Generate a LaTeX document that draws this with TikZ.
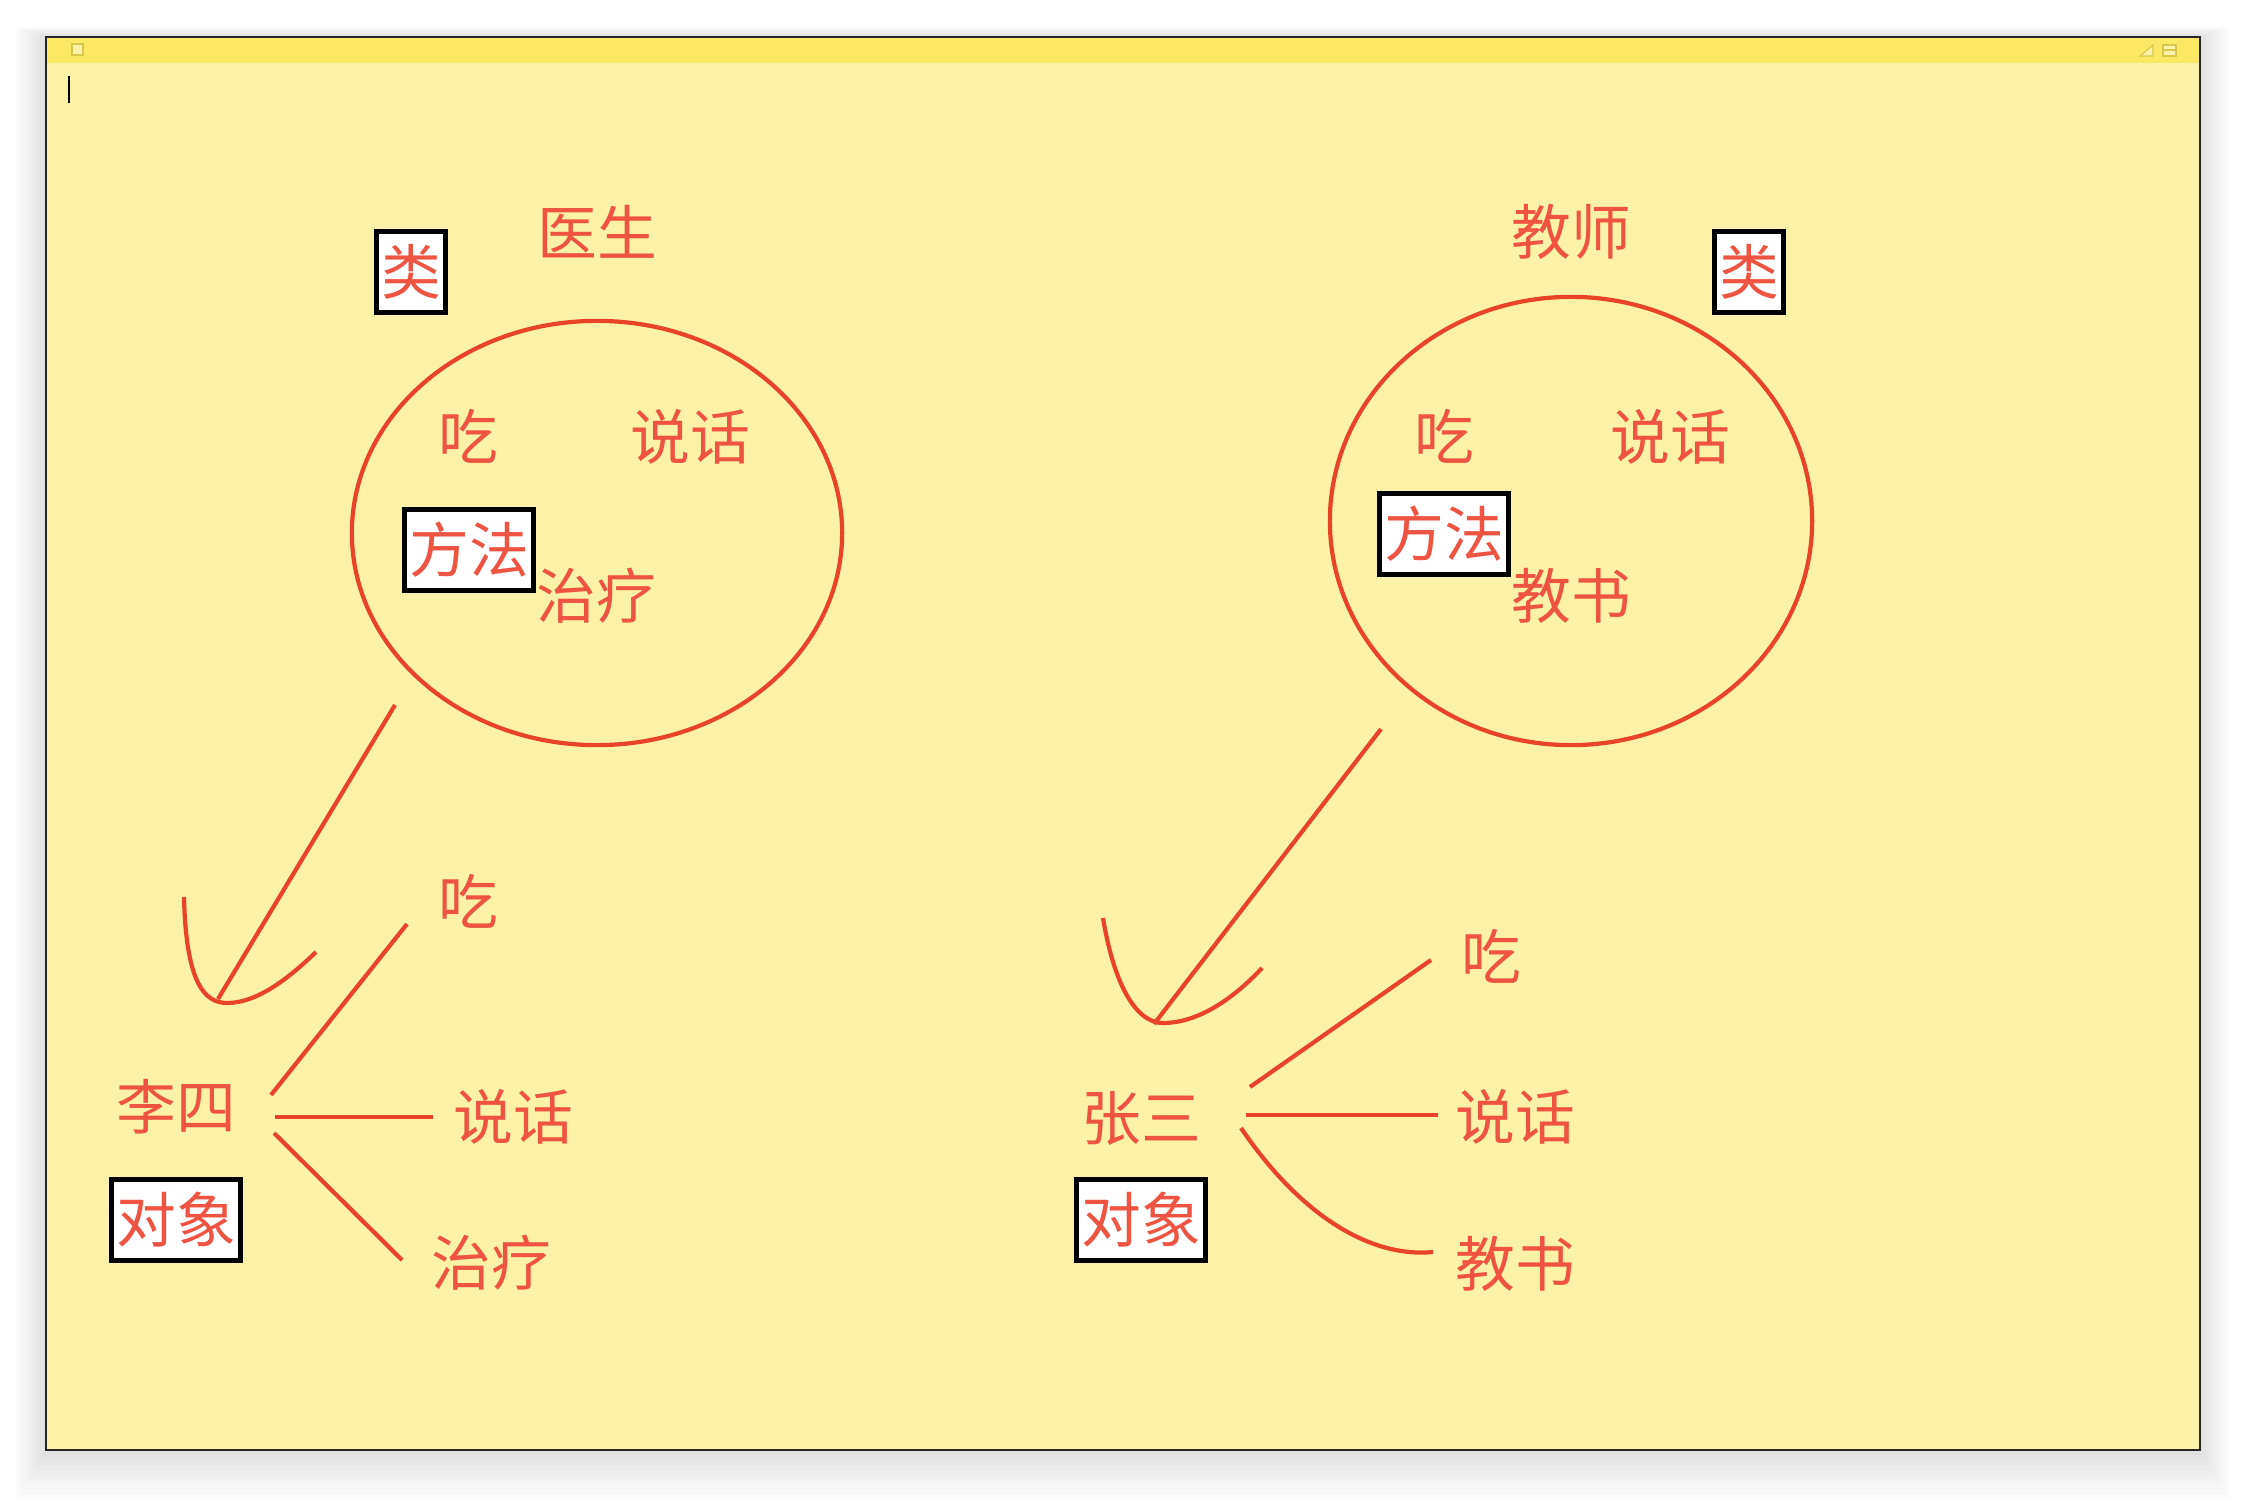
\documentclass[tikz,border=0pt]{standalone}
\usepackage{fontspec}
\usepackage{tikz}
\usetikzlibrary{shapes.geometric, positioning}
\newfontfamily\cjk{Noto Sans CJK SC}
\definecolor{noteBg}{HTML}{FBF2A7}
\definecolor{noteBar}{HTML}{FBE865}
\definecolor{noteIcon}{HTML}{D8C74A}
\definecolor{inkRed}{HTML}{EA4428}
\definecolor{textRed}{HTML}{EE5441}

\begin{document}
\begin{tikzpicture}[x=0.01cm,y=-0.01cm,
        word/.style={text=textRed,font=\cjk\fontsize{17}{20}\selectfont,inner sep=0pt,
            text height=14pt,text depth=1.1pt},
        boxed/.style={word,draw=black,line width=0.05cm,fill=white,minimum height=0.81cm},
        redline/.style={draw=inkRed,line width=0.042cm,line cap=butt},
        oval/.style={redline,ellipse,inner sep=0pt}]

        \useasboundingbox[fill=white] (0,0) rectangle (2246,1504);

        % window of the note
        \foreach \s in {1,...,10}
            \fill[black,opacity=0.012] (46-3*\s,37-\s) rectangle (2200+3*\s,1450+5*\s);
        \fill[noteBg] (46,37) rectangle (2200,1450);
        \fill[noteBar] (46,37) rectangle (2200,63);
        \draw[black!85,line width=0.015cm] (46,37) rectangle (2200,1450);
        \draw[noteIcon,fill=noteBg,line width=0.012cm] (72,44) rectangle (83,55);
        \draw[noteIcon,fill=noteBg,line width=0.012cm] (2140,56) -- (2153,45) -- (2153,56) -- cycle;
        \draw[noteIcon,fill=noteBg,line width=0.012cm] (2163,45) rectangle (2176,56);
        \draw[noteIcon,line width=0.012cm] (2163,50) -- (2176,50);
        \draw[black,line width=0.02cm] (69,76) -- (69,103);

        % class doctor
        \node[oval,minimum width=4.9cm,minimum height=4.24cm] (docOval) at (597,533) {};
        \node[word] (docName) at (597,233) {医生};
        \node[boxed,minimum width=0.69cm] (docClass) at (411,272) {类};
        \node[word] (docEat) at (468,437) {吃};
        \node[word] (docTalk) at (690,437) {说话};
        \node[boxed,minimum width=1.29cm] (docMethod) at (469,550) {方法};
        \node[word] (docCure) at (596,596) {治疗};

        % class teacher
        \node[oval,minimum width=4.82cm,minimum height=4.48cm] (teachOval) at (1571,521) {};
        \node[word] (teachName) at (1571,232) {教师};
        \node[boxed,minimum width=0.69cm] (teachClass) at (1749,272) {类};
        \node[word] (teachEat) at (1444,437) {吃};
        \node[word] (teachTalk) at (1670,437) {说话};
        \node[boxed,minimum width=1.29cm] (teachMethod) at (1444,534) {方法};
        \node[word] (teachTeach) at (1571,596) {教书};

        % object li si
        \node[word] (liSi) at (176,1107) {李四};
        \node[boxed,minimum width=1.29cm,minimum height=0.80cm] (liObj) at (176,1220) {对象};
        \node[word] (liEat) at (468,902) {吃};
        \node[word] (liTalk) at (513,1117) {说话};
        \node[word] (liCure) at (491,1263) {治疗};

        \coordinate (docTail) at (395,705);
        \coordinate (docTip) at (218,999);
        \coordinate (liHookA) at (184,897);
        \coordinate (liHookB) at (227,1003);
        \coordinate (liHookC) at (316,952);
        \draw[redline] (docTail) -- (docTip);
        \draw[redline] (liHookA) .. controls (186,980) and (203,1003) .. (liHookB)
            .. controls (258,1003) and (290,977) .. (liHookC);
        \coordinate (liOutA) at (271,1095);
        \coordinate (liInA) at (407,924);
        \coordinate (liOutB) at (275,1117);
        \coordinate (liInB) at (433,1117);
        \coordinate (liOutC) at (274,1133);
        \coordinate (liInC) at (402,1260);
        \draw[redline] (liOutA) -- (liInA);
        \draw[redline] (liOutB) -- (liInB);
        \draw[redline] (liOutC) -- (liInC);

        % object zhang san
        \node[word] (zhangSan) at (1141,1118) {张三};
        \node[boxed,minimum width=1.29cm,minimum height=0.80cm] (zhangObj) at (1141,1220) {对象};
        \node[word] (zhangEat) at (1491,957) {吃};
        \node[word] (zhangTalk) at (1515,1117) {说话};
        \node[word] (zhangTeach) at (1515,1264) {教书};

        \coordinate (teachTail) at (1381,729);
        \coordinate (teachTip) at (1154,1024);
        \coordinate (zhangHookA) at (1103,918);
        \coordinate (zhangHookB) at (1163,1023);
        \coordinate (zhangHookC) at (1262,968);
        \draw[redline] (teachTail) -- (teachTip);
        \draw[redline] (zhangHookA) .. controls (1115,990) and (1138,1023) .. (zhangHookB)
            .. controls (1200,1023) and (1236,996) .. (zhangHookC);
        \coordinate (zhangOutA) at (1250,1087);
        \coordinate (zhangInA) at (1431,960);
        \coordinate (zhangOutB) at (1246,1115);
        \coordinate (zhangInB) at (1438,1115);
        \coordinate (zhangOutC) at (1241,1128);
        \coordinate (zhangInC) at (1433,1252);
        \draw[redline] (zhangOutA) -- (zhangInA);
        \draw[redline] (zhangOutB) -- (zhangInB);
        \draw[redline] (zhangOutC) .. controls (1300,1215) and (1370,1258) .. (zhangInC);
    \end{tikzpicture}
\end{document}
